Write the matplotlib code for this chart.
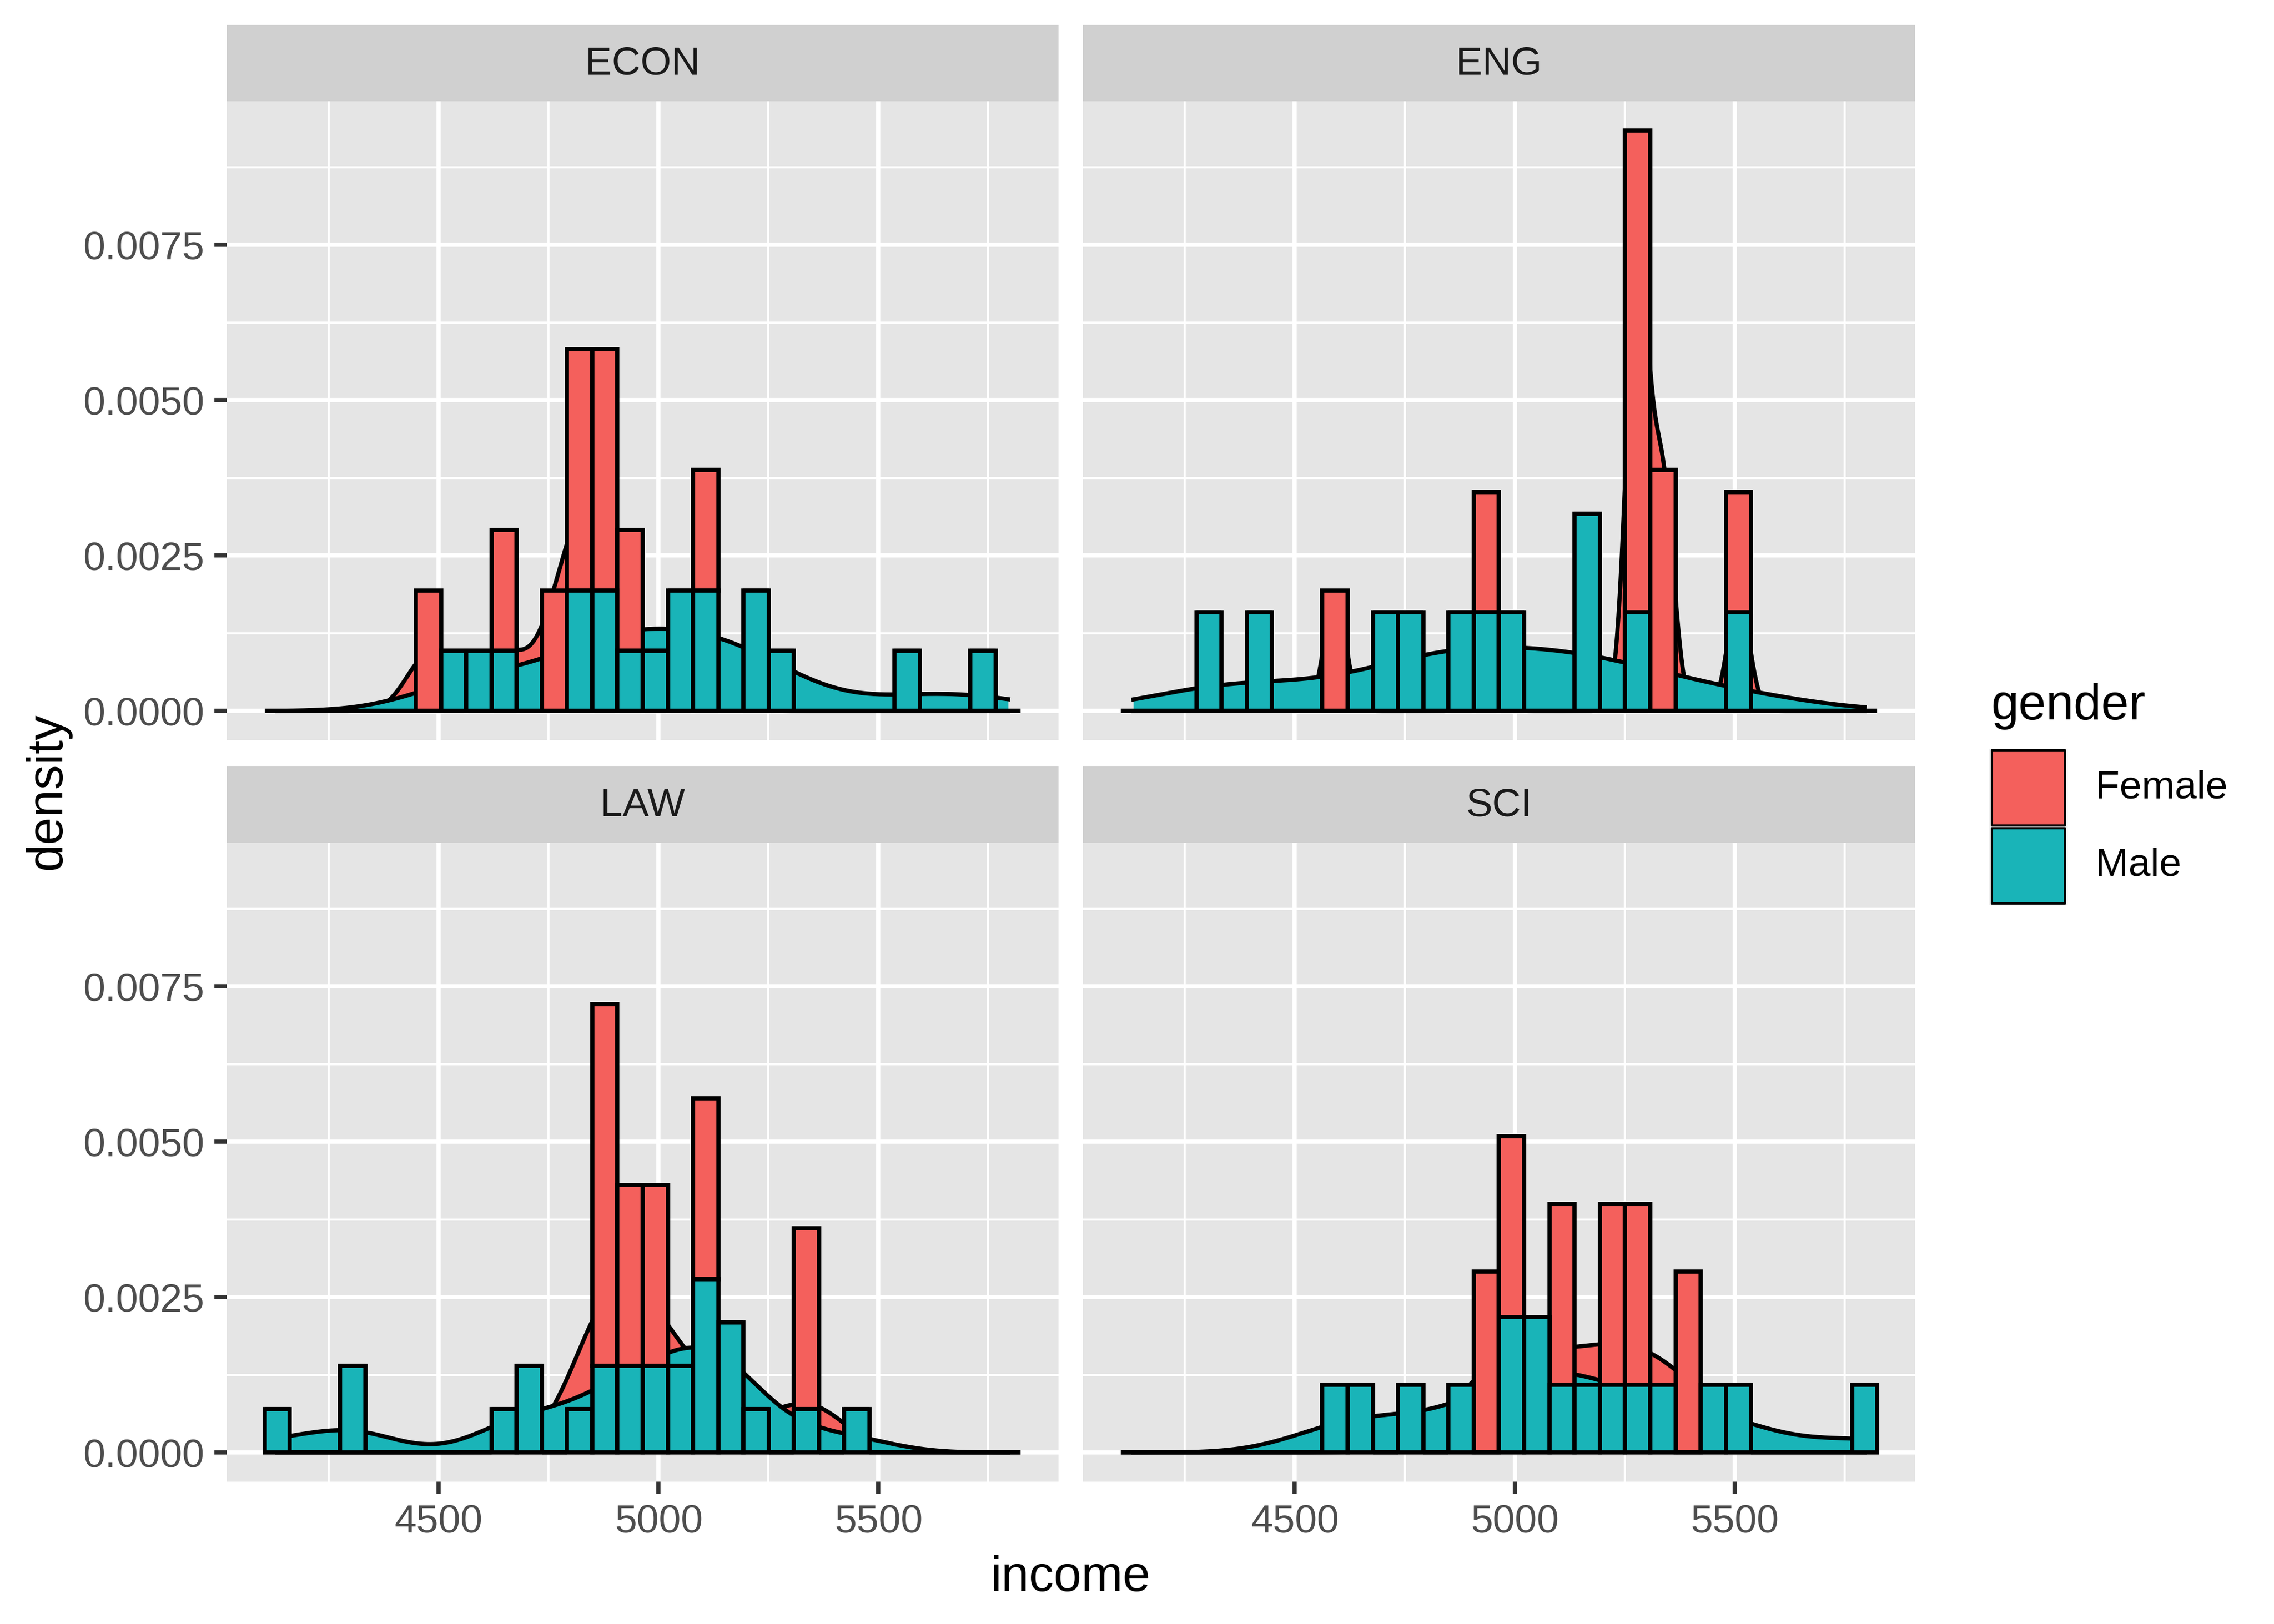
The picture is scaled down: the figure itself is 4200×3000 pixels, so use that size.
import numpy as np
import matplotlib
matplotlib.use("Agg")
import matplotlib.pyplot as plt
from matplotlib.patches import Rectangle

plt.rcParams['font.family'] = ['Liberation Sans', 'DejaVu Sans']

majors = ['ECON', 'ENG', 'LAW', 'SCI']
genders = ['Female', 'Male']

# income range of the data and number of histogram bins (ggplot bins = 30)
income_min = 4133
income_max = 5795
n_bins = 30

# counts per income bin (30 bins, low to high)
econ_female = [0, 0, 0, 0, 0, 0, 1, 0, 0, 1, 0, 1, 2, 2, 1, 0, 0, 1, 0, 0, 0, 0, 0, 0, 0, 0, 0, 0, 0, 0]
econ_male   = [0, 0, 0, 0, 0, 0, 0, 1, 1, 1, 0, 0, 2, 2, 1, 1, 2, 2, 0, 2, 1, 0, 0, 0, 0, 1, 0, 0, 1, 0]
eng_female  = [0, 0, 0, 0, 0, 0, 0, 0, 1, 0, 0, 0, 0, 0, 1, 0, 0, 0, 0, 0, 4, 2, 0, 0, 1, 0, 0, 0, 0, 0]
eng_male    = [0, 0, 0, 1, 0, 1, 0, 0, 0, 0, 1, 1, 0, 1, 1, 1, 0, 0, 2, 0, 1, 0, 0, 0, 1, 0, 0, 0, 0, 0]
law_female  = [0, 0, 0, 0, 0, 0, 0, 0, 0, 0, 0, 0, 0, 2, 1, 1, 0, 1, 0, 0, 0, 1, 0, 0, 0, 0, 0, 0, 0, 0]
law_male    = [1, 0, 0, 2, 0, 0, 0, 0, 0, 1, 2, 0, 1, 2, 2, 2, 2, 4, 3, 1, 0, 1, 0, 1, 0, 0, 0, 0, 0, 0]
sci_female  = [0, 0, 0, 0, 0, 0, 0, 0, 0, 0, 0, 0, 0, 0, 1, 1, 0, 1, 0, 1, 1, 0, 1, 0, 0, 0, 0, 0, 0, 0]
sci_male    = [0, 0, 0, 0, 0, 0, 0, 0, 1, 1, 0, 1, 0, 1, 0, 2, 2, 1, 1, 1, 1, 1, 0, 1, 1, 0, 0, 0, 0, 1]

counts = {
    ('ECON', 'Female'): econ_female, ('ECON', 'Male'): econ_male,
    ('ENG', 'Female'): eng_female, ('ENG', 'Male'): eng_male,
    ('LAW', 'Female'): law_female, ('LAW', 'Male'): law_male,
    ('SCI', 'Female'): sci_female, ('SCI', 'Male'): sci_male,
}

fill = {'Female': '#F4605C', 'Male': '#19B4B8'}
panel_bg = '#E5E5E5'
strip_bg = '#D0D0D0'
LW = 1.85

binw = (income_max - income_min) / (n_bins - 1)
centers = income_min + binw * np.arange(n_bins)
grid = np.linspace(income_min, income_max, 512)


def nrd0(x):
    # R's default bandwidth
    sd = np.std(x, ddof=1)
    q75, q25 = np.percentile(x, [75, 25])
    lo = min(sd, (q75 - q25) / 1.34)
    if lo <= 0:
        lo = sd
    return 0.9 * lo * len(x) ** -0.2


def kde(x, pts):
    bw = nrd0(x)
    z = (pts[:, None] - x[None, :]) / bw
    return np.exp(-0.5 * z ** 2).sum(axis=1) / (len(x) * bw * np.sqrt(2 * np.pi))


# histogram heights as density within each major/gender group
hist = {}
for key, c in counts.items():
    c = np.array(c, dtype=float)
    hist[key] = c / (c.sum() * binw)

ymax = max((hist[(m, 'Female')] + hist[(m, 'Male')]).max() for m in majors)
xlo, xhi = centers[0] - binw / 2, centers[-1] + binw / 2
xpad = 0.05 * (xhi - xlo)
ypad = 0.05 * ymax

W, H = 4200, 3000
fig = plt.figure(figsize=(14, 10), dpi=300)


def box(x0, y0, x1, y1):
    return [x0 / W, 1 - y1 / H, (x1 - x0) / W, (y1 - y0) / H]


cols = [(419, 1955), (2000, 3537)]
rows = [(187, 1367), (1557, 2737)]
strip_h = 141

for i, m in enumerate(majors):
    r, c = divmod(i, 2)
    x0, x1 = cols[c]
    y0, y1 = rows[r]
    ax = fig.add_axes(box(x0, y0, x1, y1))
    ax.set_facecolor(panel_bg)
    for s in ax.spines.values():
        s.set_visible(False)
    ax.set_xlim(xlo - xpad, xhi + xpad)
    ax.set_ylim(-ypad, ymax + ypad)
    ax.set_xticks([4500, 5000, 5500])
    ax.set_xticks([4250, 4750, 5250, 5750], minor=True)
    ax.set_yticks([0, 0.0025, 0.005, 0.0075])
    ax.set_yticks([0.00125, 0.00375, 0.00625, 0.00875], minor=True)
    ax.set_xticklabels(['4500', '5000', '5500'])
    ax.set_yticklabels(['0.0000', '0.0025', '0.0050', '0.0075'])
    ax.set_axisbelow(True)
    ax.grid(which='major', color='white', lw=LW)
    ax.grid(which='minor', color='white', lw=LW / 2)
    ax.tick_params(which='minor', length=0)
    ax.tick_params(which='major', length=5.5, width=LW, color='#333333',
                   labelcolor='#4D4D4D', labelsize=17.6, pad=4.4)
    if r == 0:
        ax.tick_params(axis='x', which='both', length=0, labelbottom=False)
    if c == 1:
        ax.tick_params(axis='y', which='both', length=0, labelleft=False)

    # density curves, overlaid: Female first, Male drawn over it
    z = 2
    for g in genders:
        sample = np.repeat(centers, counts[(m, g)])
        d = kde(sample, grid)
        ax.fill_between(grid, 0, d, color=fill[g], lw=0, zorder=z)
        ax.plot(grid, d, color='black', lw=LW, zorder=z + 0.05)
        z += 0.1

    # stacked histogram (Female on top of Male)
    hm = hist[(m, 'Male')]
    hf = hist[(m, 'Female')]
    ax.bar(centers, hf, width=binw, bottom=hm, color=fill['Female'],
           edgecolor='black', lw=LW, zorder=3)
    ax.bar(centers, hm, width=binw, bottom=0, color=fill['Male'],
           edgecolor='black', lw=LW, zorder=3)

    # facet strip
    sax = fig.add_axes(box(x0, y0 - strip_h, x1, y0))
    sax.set_facecolor(strip_bg)
    sax.set_xticks([])
    sax.set_yticks([])
    for s in sax.spines.values():
        s.set_visible(False)
    sax.text(0.5, 0.48, m, ha='center', va='center', fontsize=17.6,
             color='#1A1A1A', transform=sax.transAxes)

# axis titles
fig.text(1978 / W, 1 - 2915 / H, 'income', ha='center', va='center', fontsize=22)
fig.text(88 / W, 1 - 1462 / H, 'density', ha='center', va='center',
         rotation=90, fontsize=22)

# legend
fig.text(3677 / W, 1 - 1329 / H, 'gender', ha='left', va='baseline', fontsize=22)
fig.add_artist(Rectangle((3674 / W, 1 - 1672 / H), 145 / W, 289 / H,
                         facecolor='#F0F0F0', edgecolor='none',
                         transform=fig.transFigure))
key_y = [(1386, 1525), (1530, 1669)]
for g, (ky0, ky1) in zip(genders, key_y):
    fig.add_artist(Rectangle((3679 / W, 1 - ky1 / H), 135 / W, (ky1 - ky0) / H,
                             facecolor=fill[g], edgecolor='black', lw=1.0,
                             joinstyle='round', transform=fig.transFigure))
    fig.text(3870 / W, 1 - (ky0 + ky1) / 2 / H, g, ha='left', va='center',
             fontsize=17.6)

fig.savefig('out.png', dpi=300, facecolor='white')
